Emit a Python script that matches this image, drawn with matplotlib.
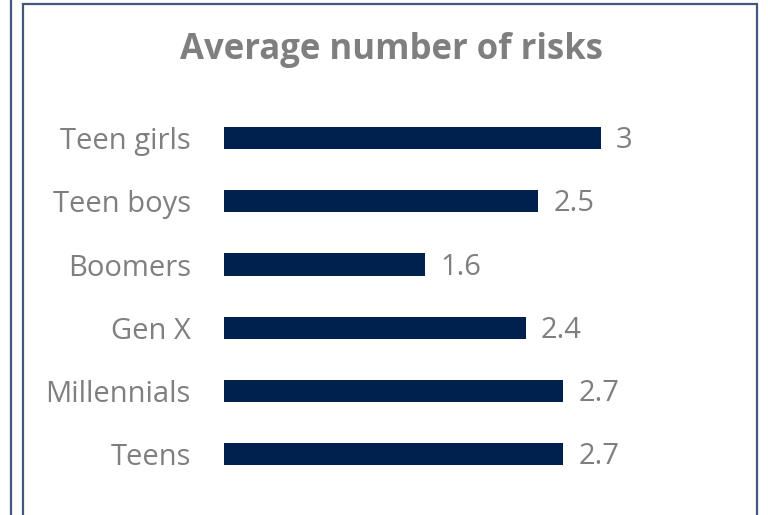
import matplotlib.pyplot as plt
from matplotlib.patches import Rectangle
from matplotlib.lines import Line2D

# Data (bottom to top)
groups = ["Teens", "Millennials", "Gen X", "Boomers", "Teen boys", "Teen girls"]
avg_risks = [2.7, 2.7, 2.4, 1.6, 2.5, 3]
value_labels = ["2.7", "2.7", "2.4", "1.6", "2.5", "3"]

W, H = 768, 515
fig = plt.figure(figsize=(W / 100, H / 100), dpi=100)
fig.patch.set_facecolor("white")

# panel borders
border = "#44577f"
fig.add_artist(Line2D([10.5 / W, 10.5 / W], [0, 1], color=border, lw=1.6))
fig.add_artist(Rectangle((22.5 / W, -0.05), (757 - 22.5) / W, 1.05 - 4 / H,
                         fill=False, edgecolor=border, lw=1.6))

fig.text(391 / W, 1 - 50 / H, "Average number of risks", ha="center", va="center",
         fontsize=25, fontweight="bold", color="#7f7f7f", family="Open Sans")

# axes placed so bars land where the original has them
ax = fig.add_axes([224 / W, 1 - 485.6 / H, 377 / W, 379 / H])
ax.barh(range(len(groups)), avg_risks, height=0.35, color="#00204e")
ax.set_xlim(0, 3)
ax.set_ylim(-0.5, len(groups) - 0.5)
for i, v in enumerate(avg_risks):
    ax.text(v + 0.12, i - 0.04, value_labels[i], va="center", ha="left",
            fontsize=21, color="#7f7f7f", family="Open Sans")

ax.set_yticks(range(len(groups)))
ax.set_yticklabels(groups, fontsize=21, color="#7f7f7f", family="Open Sans")
ax.tick_params(axis="y", length=0, pad=24)
ax.set_xticks([])
for s in ax.spines.values():
    s.set_visible(False)
ax.patch.set_visible(False)

fig.savefig("out.png", dpi=100)
